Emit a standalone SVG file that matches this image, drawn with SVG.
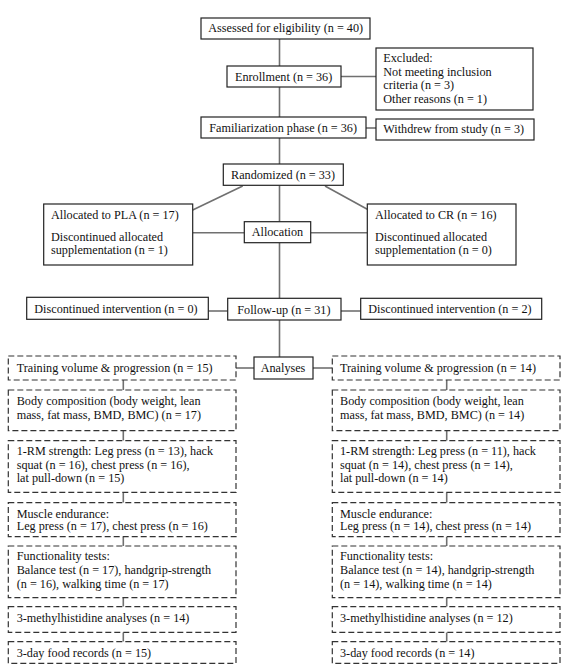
<svg xmlns="http://www.w3.org/2000/svg" width="570" height="671" viewBox="0 0 570 671">
<style>
.box{fill:#fff;stroke:#222;stroke-width:1.2}
.dbox{fill:#fff;stroke:#333;stroke-width:1.2;stroke-dasharray:6 3}
.t{font-family:"Liberation Serif","Times New Roman",serif;font-size:12.2px;fill:#111}
.c{stroke:#707070;stroke-width:1.6;fill:none}
</style>
<rect width="570" height="671" fill="#fff"/>
<g id="connectors">
<line class="c" x1="279.5" y1="39" x2="279.5" y2="66"/>
<line class="c" x1="279.5" y1="87" x2="279.5" y2="117"/>
<line class="c" x1="279.5" y1="138" x2="279.5" y2="164"/>
<line class="c" x1="279.5" y1="185.3" x2="279.5" y2="221.7"/>
<line class="c" x1="279.5" y1="242.7" x2="279.5" y2="298.3"/>
<line class="c" x1="279.5" y1="320" x2="279.5" y2="357"/>
<line class="c" x1="341" y1="76.5" x2="376" y2="76.5"/>
<line class="c" x1="366" y1="128" x2="376" y2="128"/>
<line class="c" x1="242.7" y1="186" x2="192.7" y2="210"/>
<line class="c" x1="325" y1="186" x2="367.3" y2="209.3"/>
<line class="c" x1="192.7" y1="232.7" x2="244.3" y2="232.7"/>
<line class="c" x1="310.7" y1="232.7" x2="367.3" y2="232.7"/>
<line class="c" x1="208.3" y1="311" x2="227.7" y2="311"/>
<line class="c" x1="341" y1="311" x2="360.7" y2="311"/>
<line class="c" x1="236" y1="368" x2="254" y2="368"/>
<line class="c" x1="313" y1="368" x2="332.3" y2="368"/>
<line class="c" x1="123.3" y1="380" x2="123.3" y2="390"/>
<line class="c" x1="123.3" y1="430.7" x2="123.3" y2="440.7"/>
<line class="c" x1="123.3" y1="492.3" x2="123.3" y2="502.7"/>
<line class="c" x1="123.3" y1="536.7" x2="123.3" y2="546"/>
<line class="c" x1="123.3" y1="597.7" x2="123.3" y2="606.7"/>
<line class="c" x1="123.3" y1="632.3" x2="123.3" y2="641.7"/>
<line class="c" x1="446.7" y1="380" x2="446.7" y2="390"/>
<line class="c" x1="446.7" y1="430.7" x2="446.7" y2="440.7"/>
<line class="c" x1="446.7" y1="492.3" x2="446.7" y2="502.7"/>
<line class="c" x1="446.7" y1="536.7" x2="446.7" y2="546"/>
<line class="c" x1="446.7" y1="597.7" x2="446.7" y2="606.7"/>
<line class="c" x1="446.7" y1="632.3" x2="446.7" y2="641.7"/>
</g>
<g id="assessed"><rect class="box" x="201" y="18" width="169" height="21"/><text class="t" x="208.3" y="32">Assessed for eligibility (n = 40)</text></g>
<g id="enrollment"><rect class="box" x="227" y="66" width="114" height="21"/><text class="t" x="235" y="80.5">Enrollment (n = 36)</text></g>
<g id="excluded"><rect class="box" x="376" y="48" width="157" height="62"/><text class="t" x="383.3" y="62">Excluded:</text><text class="t" x="383.3" y="75.5">Not meeting inclusion</text><text class="t" x="383.3" y="89">criteria (n = 3)</text><text class="t" x="383.3" y="102.5">Other reasons (n = 1)</text></g>
<g id="familiarization"><rect class="box" x="201" y="117" width="165" height="21"/><text class="t" x="209.3" y="131.5">Familiarization phase (n = 36)</text></g>
<g id="withdrew"><rect class="box" x="376" y="119" width="158" height="21"/><text class="t" x="383.3" y="133">Withdrew from study (n = 3)</text></g>
<g id="randomized"><rect class="box" x="223.3" y="164" width="120" height="21.3"/><text class="t" x="231" y="178.5">Randomized (n = 33)</text></g>
<g id="pla"><rect class="box" x="43.7" y="204" width="149" height="61"/><text class="t" x="51" y="218.5">Allocated to PLA (n = 17)</text><text class="t" x="51" y="241">Discontinued allocated</text><text class="t" x="51" y="254">supplementation (n = 1)</text></g>
<g id="allocation"><rect class="box" x="244.3" y="221.7" width="66.4" height="21"/><text class="t" x="251.7" y="235.5">Allocation</text></g>
<g id="cr"><rect class="box" x="367.3" y="204" width="148.7" height="61"/><text class="t" x="375" y="218.5">Allocated to CR (n = 16)</text><text class="t" x="375" y="241">Discontinued allocated</text><text class="t" x="375" y="254">supplementation (n = 0)</text></g>
<g id="disc-left"><rect class="box" x="26.7" y="297.3" width="181.6" height="22"/><text class="t" x="34.3" y="313">Discontinued intervention (n = 0)</text></g>
<g id="followup"><rect class="box" x="227.7" y="298.3" width="113.3" height="21.7"/><text class="t" x="237.3" y="313.5">Follow-up (n = 31)</text></g>
<g id="disc-right"><rect class="box" x="360.7" y="298.3" width="181" height="21"/><text class="t" x="368.3" y="313">Discontinued intervention (n = 2)</text></g>
<g id="analyses"><rect class="box" x="254" y="357" width="59" height="22"/><text class="t" x="260.7" y="371.5">Analyses</text></g>
<g id="left-training"><rect class="dbox" x="8.3" y="356" width="227.7" height="24"/><text class="t" x="16.7" y="372">Training volume &amp; progression (n = 15)</text></g>
<g id="left-body"><rect class="dbox" x="8.3" y="390" width="227.7" height="40.7"/><text class="t" x="16.7" y="405">Body composition (body weight, lean</text><text class="t" x="16.7" y="418.5">mass, fat mass, BMD, BMC) (n = 17)</text></g>
<g id="left-strength"><rect class="dbox" x="8.3" y="440.7" width="227.7" height="51.6"/><text class="t" x="16.7" y="455">1-RM strength: Leg press (n = 13), hack</text><text class="t" x="16.7" y="468.5">squat (n = 16), chest press (n = 16),</text><text class="t" x="16.7" y="482">lat pull-down (n = 15)</text></g>
<g id="left-endurance"><rect class="dbox" x="8.3" y="502.7" width="227.7" height="34"/><text class="t" x="16.7" y="517.5">Muscle endurance:</text><text class="t" x="16.7" y="530">Leg press (n = 17), chest press (n = 16)</text></g>
<g id="left-function"><rect class="dbox" x="8.3" y="546" width="227.7" height="51.7"/><text class="t" x="16.7" y="559.5">Functionality tests:</text><text class="t" x="16.7" y="573.5">Balance test (n = 17), handgrip-strength</text><text class="t" x="16.7" y="587.5">(n = 16), walking time (n = 17)</text></g>
<g id="left-methyl"><rect class="dbox" x="8.3" y="606.7" width="227.7" height="25.6"/><text class="t" x="16.7" y="622">3-methylhistidine analyses (n = 14)</text></g>
<g id="left-food"><rect class="dbox" x="8.3" y="641.7" width="227.7" height="21.6"/><text class="t" x="16.7" y="657">3-day food records (n = 15)</text></g>
<g id="right-training"><rect class="dbox" x="332.3" y="356" width="227.7" height="24"/><text class="t" x="340" y="372">Training volume &amp; progression (n = 14)</text></g>
<g id="right-body"><rect class="dbox" x="332.3" y="390" width="227.7" height="40.7"/><text class="t" x="340" y="405">Body composition (body weight, lean</text><text class="t" x="340" y="418.5">mass, fat mass, BMD, BMC) (n = 14)</text></g>
<g id="right-strength"><rect class="dbox" x="332.3" y="440.7" width="227.7" height="51.6"/><text class="t" x="340" y="455">1-RM strength: Leg press (n = 11), hack</text><text class="t" x="340" y="468.5">squat (n = 14), chest press (n = 14),</text><text class="t" x="340" y="482">lat pull-down (n = 14)</text></g>
<g id="right-endurance"><rect class="dbox" x="332.3" y="502.7" width="227.7" height="34"/><text class="t" x="340" y="517.5">Muscle endurance:</text><text class="t" x="340" y="530">Leg press (n = 14), chest press (n = 14)</text></g>
<g id="right-function"><rect class="dbox" x="332.3" y="546" width="227.7" height="51.7"/><text class="t" x="340" y="559.5">Functionality tests:</text><text class="t" x="340" y="573.5">Balance test (n = 14), handgrip-strength</text><text class="t" x="340" y="587.5">(n = 14), walking time (n = 14)</text></g>
<g id="right-methyl"><rect class="dbox" x="332.3" y="606.7" width="227.7" height="25.6"/><text class="t" x="340" y="622">3-methylhistidine analyses (n = 12)</text></g>
<g id="right-food"><rect class="dbox" x="332.3" y="641.7" width="227.7" height="21.6"/><text class="t" x="340" y="657">3-day food records (n = 14)</text></g>
</svg>
